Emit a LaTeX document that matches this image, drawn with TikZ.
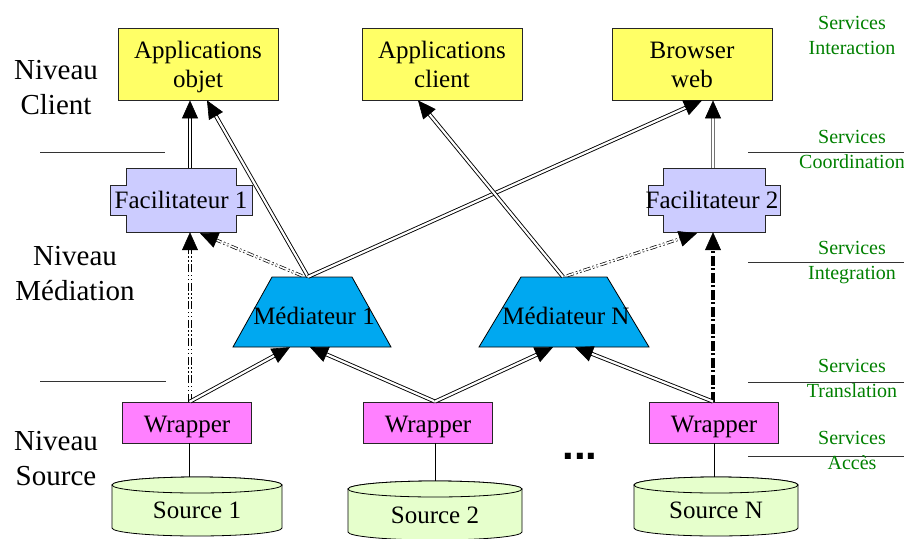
\documentclass[tikz,border=0pt]{standalone}
\usepackage{fontspec}
\setmainfont{Liberation Serif}
\newfontfamily\dotfont{Liberation Sans}
\usetikzlibrary{arrows.meta,calc}
\definecolor{appyellow}{RGB}{255,255,102}
\definecolor{faclav}{RGB}{204,204,255}
\definecolor{medblue}{RGB}{0,168,240}
\definecolor{wrapmag}{RGB}{255,128,255}
\definecolor{srcgreen}{RGB}{230,255,204}
\definecolor{svcgreen}{RGB}{0,128,0}
% a connector: its line (shortened) plus a solid black tip at the far end
\newcommand\linkto[3]{%
  \draw[#1, shorten >=15pt] (#2) -- (#3);
  \draw[tipbig] ($(#3)!16pt!(#2)$) -- (#3);}
\begin{document}
\begin{tikzpicture}[x=1pt,y=-1pt,
  txt/.style={inner sep=0pt, align=center, font=\fontsize{25}{29}\selectfont},
  box/.style={txt, draw=black!85, line width=0.8pt},
  appbox/.style={box, fill=appyellow, minimum width=160pt, minimum height=72pt,
    text height=47pt, text depth=1pt},
  wrapbox/.style={box, fill=wrapmag, minimum width=129pt, minimum height=41pt,
    text height=19pt, text depth=0pt},
  facnode/.style={txt, minimum height=64pt, minimum width=104pt},
  mednode/.style={inner sep=0pt, minimum height=70pt, minimum width=80pt},
  level/.style={inner sep=0pt, align=center, font=\fontsize{29}{35}\selectfont},
  svc/.style={inner sep=0pt, align=center, text=svcgreen, font=\fontsize{20}{25}\selectfont},
  facshape/.style={draw=black!85, line width=0.8pt, fill=faclav},
  medshape/.style={draw=black, line width=0.8pt, fill=medblue},
  srcshape/.style={draw=black, line width=0.8pt, fill=srcgreen},
  sepline/.style={line width=0.8pt, draw=black!80},
  tipbig/.style={solid, line width=0.6pt, draw=black, fill=black, -{Triangle[length=18pt,width=16pt]}},
  dline/.style={double, double distance=2.2pt, line width=0.9pt},
  grayline/.style={dline, draw=black!55},
  ddline/.style={dline, dash pattern=on 8pt off 2.5pt on 1.5pt off 2.5pt on 1.5pt off 2.5pt},
  ddthin/.style={double, double distance=1.6pt, line width=0.7pt,
    dash pattern=on 7pt off 2.5pt on 1.5pt off 2.5pt on 1.5pt off 2.5pt},
  thickdash/.style={line width=3.8pt, dash pattern=on 10pt off 2.5pt on 2pt off 2.5pt}
]
\useasboundingbox (0,0) rectangle (904,538);

% level titles
\node[level] (lvclient) at (56,88) {Niveau\\Client};
\node[level] (lvmed) at (75,274) {Niveau\\Médiation};
\node[level] (lvsrc) at (56,459) {Niveau\\Source};

% separators
\draw[sepline] (40,152) -- (165,152);
\draw[sepline] (40,381) -- (166,381);
\foreach \yy in {152,262,382,456} \draw[sepline] (748,\yy) -- (904,\yy);

% service labels
\node[svc] (svint) at (852,35.5) {Services\\Interaction};
\node[svc] (svcoo) at (852,149.5) {Services\\Coordination};
\node[svc] (svitg) at (852,262.5) {Services\\Integration};
\node[svc] (svtra) at (852,378) {Services\\Translation};
\node[svc] (svacc) at (852,450.5) {Services\\Accès};

% client applications
\node[appbox] (appobj) at (198,64) {Applications\\objet};
\node[appbox] (appcli) at (442,64) {Applications\\client};
\node[appbox] (browser) at (692,64) {Browser\\web};

% facilitators (notched boxes)
\foreach \cx/\ih/\oh in {181/55/71, 714/51/66} {
  \path[facshape] (\cx-\ih,168) -- (\cx+\ih,168) -- (\cx+\ih,185) -- (\cx+\oh,185)
    -- (\cx+\oh,215) -- (\cx+\ih,215) -- (\cx+\ih,232) -- (\cx-\ih,232)
    -- (\cx-\ih,215) -- (\cx-\oh,215) -- (\cx-\oh,185) -- (\cx-\ih,185) -- cycle;
}
\node[facnode] (fac1) at (181,200) {Facilitateur 1};
\node[facnode] (fac2) at (712,200) {Facilitateur 2};

% mediators (trapezoids)
\path[medshape] (272,277) -- (352,277) -- (391,347) -- (233,347) -- cycle;
\path[medshape] (521,277) -- (607,277) -- (649,347) -- (479,347) -- cycle;
\node[mednode] (med1) at (312,312) {};
\node[mednode] (medN) at (564,312) {};
\node[txt] (med1txt) at (314,316) {Médiateur 1};
\node[txt] (medNtxt) at (566,316) {Médiateur N};

% wrappers
\node[wrapbox] (w1) at (187,422.5) {Wrapper};
\node[wrapbox] (w2) at (428,422.5) {Wrapper};
\node[wrapbox] (wN) at (714,422.5) {Wrapper};

% sources (cylinders)
\foreach \cx/\cy/\rx/\by in {197/485/85/528, 435/489/87/532, 716/485/82/528} {
  \path[srcshape] (\cx-\rx,\cy) -- (\cx-\rx,\by)
    arc[start angle=180, end angle=0, x radius=\rx, y radius=8]
    -- (\cx+\rx,\cy) arc[start angle=0, end angle=-180, x radius=\rx, y radius=8] -- cycle;
  \draw[srcshape] (\cx,\cy) ellipse[x radius=\rx, y radius=8];
}
\coordinate (s1top) at (197,477);
\coordinate (s2top) at (435,481);
\coordinate (sNtop) at (716,477);
\node[txt] (src1) at (197,510) {Source 1};
\node[txt] (src2) at (435,515) {Source 2};
\node[txt] (srcN) at (716,510) {Source N};

\node[inner sep=0pt, anchor=base, font=\dotfont\bfseries\fontsize{42}{42}\selectfont] (dots) at (580,459) {...};

% attachment points on the boxes
\coordinate (fac1top) at ($(fac1.north)+(9,0)$);
\coordinate (aobjL)   at ($(appobj.south)+(-8,0)$);
\coordinate (aobjR)   at ($(appobj.south)+(9,0)$);
\coordinate (m1top)   at ($(med1.north)+(-4,0)$);
\coordinate (browL)   at ($(browser.south)+(10,0)$);
\coordinate (browR)   at ($(browser.south)+(21,0)$);
\coordinate (mNtop)   at ($(medN.north)+(-1,0)$);
\coordinate (acliB)   at ($(appcli.south)+(-24,0)$);
\coordinate (fac2top) at ($(fac2.north)+(1,0)$);
\coordinate (m1dot)   at ($(med1.north)+(-10,-1)$);
\coordinate (fac1R)   at ($(fac1.south)+(19,1)$);
\coordinate (mNdot)   at ($(medN.north)+(3,-1)$);
\coordinate (fac2L)   at ($(fac2.south)+(-15,1)$);
\coordinate (w1top)   at ($(w1.north)+(3,0)$);
\coordinate (fac1B)   at ($(fac1.south)+(9,0)$);
\coordinate (wNtop)   at ($(wN.north)+(-1,0)$);
\coordinate (fac2B)   at ($(fac2.south)+(1,0)$);
\coordinate (w2top)   at ($(w2.north)+(7,0)$);
\coordinate (m1bL)    at ($(med1.south)+(-22,0)$);
\coordinate (m1bR)    at ($(med1.south)+(-2,0)$);
\coordinate (mNbL)    at ($(medN.south)+(-11,0)$);
\coordinate (mNbR)    at ($(medN.south)+(11,0)$);
\coordinate (w1bot)   at ($(w1.south)+(2,0)$);
\coordinate (w2bot)   at ($(w2.south)+(7,0)$);

% wrapper to source links
\draw[line width=0.6pt] (w1bot) -- (w1bot |- s1top);
\draw[line width=0.6pt] (w2bot) -- (w2bot |- s2top);
\draw[line width=0.6pt] (wN.south) -- (wN.south |- sNtop);

% client level links
\linkto{dline}{fac1top}{aobjL}
\linkto{dline}{m1top}{aobjR}
\linkto{dline}{m1top}{browL}
\linkto{dline}{mNtop}{acliB}
\linkto{grayline}{fac2top}{browR}

% mediation level links
\linkto{ddthin}{m1dot}{fac1R}
\linkto{ddthin}{mNdot}{fac2L}
\linkto{ddline}{w1top}{fac1B}
\linkto{thickdash}{wNtop}{fac2B}

% wrapper to mediator links
\linkto{dline}{w1top}{m1bL}
\linkto{dline}{w2top}{m1bR}
\linkto{dline}{w2top}{mNbL}
\linkto{dline}{wNtop}{mNbR}
\end{tikzpicture}
\end{document}
